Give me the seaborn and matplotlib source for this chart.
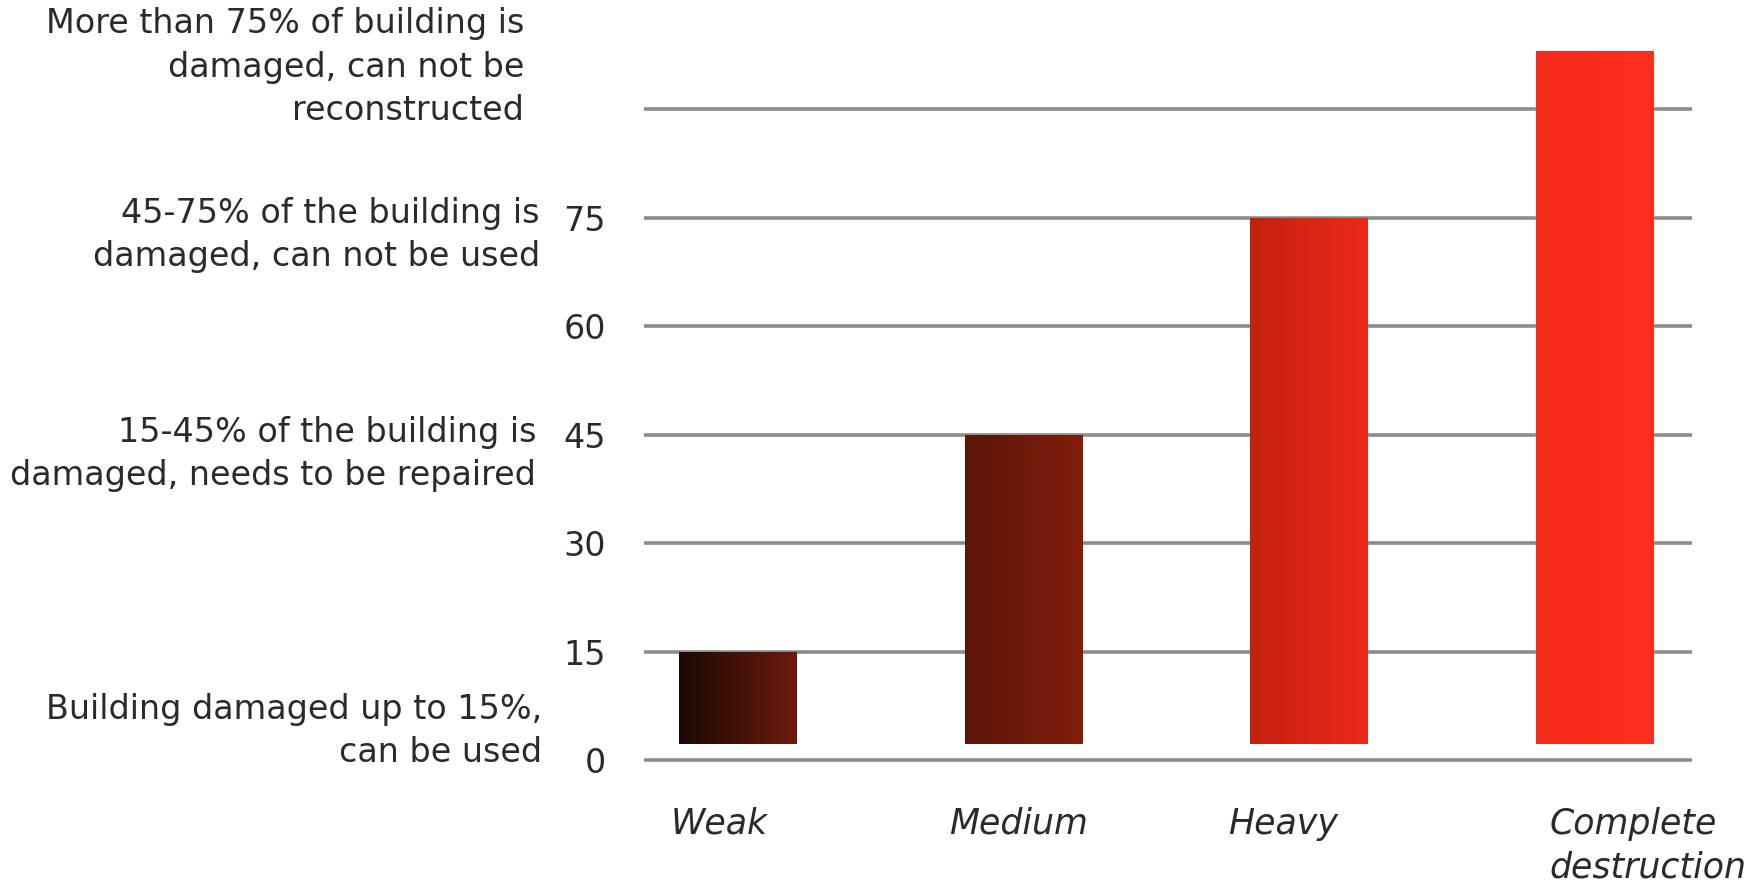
import numpy as np
import pandas as pd
import matplotlib
matplotlib.use("Agg")
import matplotlib.pyplot as plt
import seaborn as sns
from matplotlib.colors import LinearSegmentedColormap
from matplotlib.transforms import ScaledTranslation, blended_transform_factory

# --- data -------------------------------------------------------------
categories = ["Weak", "Medium", "Heavy", "Complete\ndestruction"]
damage = [15, 45, 75, 98]
tick_values = [0, 15, 30, 45, 60, 75, 90]
tick_labels = ["0", "15", "30", "45", "60", "75", ""]
descriptions = [
    "Building damaged up to 15%,\ncan be used",
    "15-45% of the building is\ndamaged, needs to be repaired",
    "45-75% of the building is\ndamaged, can not be used",
    "More than 75% of building is\ndamaged, can not be\nreconstructed",
]
description_y = [4.0, 42.3, 72.6, 95.8]
bar_base = 2.2

# left/right colour of each bar's horizontal gradient
gradients = [
    ("#1a0a05", "#6e1a0c"),
    ("#5a1608", "#821d0b"),
    ("#c3200f", "#ee2a18"),
    ("#f42a1a", "#ff2e1e"),
]

sns.set_theme(style="white")
plt.rcParams["font.family"] = ["DejaVu Sans"]

df = pd.DataFrame({"category": categories, "damage": damage})

fig = plt.figure(figsize=(17.49, 8.90), dpi=100)
ax = fig.add_axes([0.368, 0.1216, 0.5994, 0.8372])

sns.barplot(data=df, x="category", y="damage", ax=ax, width=0.41,
            color="#cc2211", saturation=1, zorder=3)

# grid lines
for v in tick_values:
    ax.axhline(v, color="#8c8c8c", lw=2.6, zorder=1)

# bars start slightly above the baseline and are filled with a gradient
for patch, (c0, c1) in zip(ax.patches, gradients):
    top = patch.get_y() + patch.get_height()
    patch.set_y(bar_base)
    patch.set_height(top - bar_base)
    patch.set_facecolor("none")
    patch.set_edgecolor("none")
    x0 = patch.get_x()
    x1 = x0 + patch.get_width()
    cmap = LinearSegmentedColormap.from_list("g", [c0, c1])
    grad = np.linspace(0, 1, 256).reshape(1, -1)
    im = ax.imshow(grad, cmap=cmap, aspect="auto",
                   extent=(x0, x1, bar_base, top), zorder=3,
                   interpolation="bicubic")
    im.set_clip_path(patch)

ax.set_xlim(-0.329, 3.342)
ax.set_ylim(-3, 100)

ax.set_yticks(tick_values)
ax.set_yticklabels(tick_labels, fontsize=24, color="#2a2a2a")
ax.tick_params(axis="y", length=0, pad=27)
ax.tick_params(axis="x", length=0, pad=18)
ax.set_xticks(range(len(categories)))
ax.set_xticklabels(categories, fontsize=25, style="italic", color="#2a2a2a",
                   linespacing=1.35, va="top")
shifts = [-0.2, -0.05, -0.28, 0.6]
for lab, s in zip(ax.get_xticklabels(), shifts):
    lab.set_multialignment("left")
    lab.set_transform(lab.get_transform() +
                      ScaledTranslation(s * 0.9, 0, fig.dpi_scale_trans))

ax.set_xlabel("")
ax.set_ylabel("")
for sp in ax.spines.values():
    sp.set_visible(False)
ax.grid(False)

# damage-level descriptions beside the axis
right_edges = [542, 536, 540, 524]
trans = blended_transform_factory(fig.transFigure, ax.transData)
for txt, y, rx in zip(descriptions, description_y, right_edges):
    ax.text(rx / 1749, y, txt, transform=trans,
            ha="right", va="center", multialignment="right",
            fontsize=24, color="#2a2a2a", linespacing=1.4)

fig.savefig("out.png", dpi=100, facecolor="white")
